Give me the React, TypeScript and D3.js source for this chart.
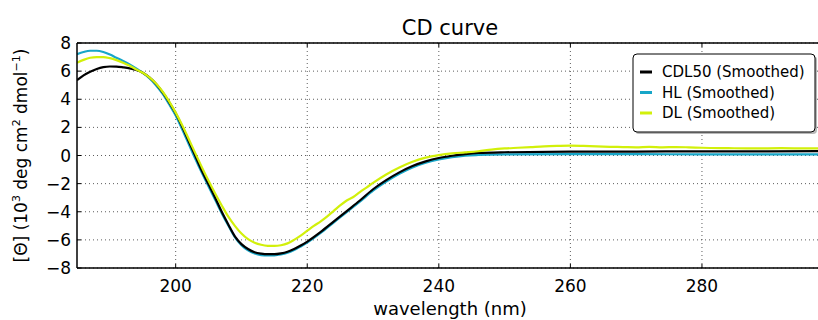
import React from "react";
import * as d3 from "d3";

const seriesNames = ["CDL50 (Smoothed)", "HL (Smoothed)", "DL (Smoothed)"];
const seriesColors = ["#000000", "#17a6c8", "#d2f00a"];

const cdl50: [number, number][] = [
  [185, 5.35], [186, 5.7], [187, 5.95], [188, 6.15], [189, 6.28], [190, 6.33], [191, 6.32],
  [192, 6.27], [193, 6.2], [194, 6.08], [195, 5.88], [196, 5.55], [197, 5.1], [198, 4.5],
  [199, 3.8], [200, 3.0], [201, 2.05], [202, 1.0], [203, -0.05], [204, -1.1], [205, -2.05],
  [206, -3.0], [207, -4.0], [208, -4.9], [209, -5.75], [210, -6.3], [211, -6.65], [212, -6.88],
  [213, -6.98], [214, -7.02], [215, -7.02], [216, -6.96], [217, -6.84], [218, -6.65],
  [219, -6.4], [220, -6.12], [222, -5.45], [224, -4.7], [226, -3.95], [228, -3.2],
  [230, -2.4], [232, -1.75], [234, -1.2], [236, -0.75], [238, -0.42], [240, -0.18],
  [242, -0.02], [244, 0.1], [246, 0.18], [250, 0.23], [260, 0.27], [270, 0.28], [280, 0.3],
  [290, 0.3], [298.5, 0.32],
];

const hl: [number, number][] = [
  [185, 7.2], [186, 7.36], [187, 7.45], [188, 7.45], [189, 7.36], [190, 7.18], [191, 6.95],
  [192, 6.72], [193, 6.48], [194, 6.2], [195, 5.88], [196, 5.5], [197, 5.0], [198, 4.4],
  [199, 3.65], [200, 2.85], [201, 1.85], [202, 0.8], [203, -0.25], [204, -1.25], [205, -2.2],
  [206, -3.15], [207, -4.1], [208, -4.98], [209, -5.8], [210, -6.38], [211, -6.75],
  [212, -6.97], [213, -7.08], [214, -7.11], [215, -7.1], [216, -7.04], [217, -6.92],
  [218, -6.72], [219, -6.47], [220, -6.2], [222, -5.52], [224, -4.77], [226, -4.02],
  [228, -3.28], [230, -2.5], [232, -1.85], [234, -1.3], [236, -0.85], [238, -0.52],
  [240, -0.28], [242, -0.12], [244, -0.01], [246, 0.04], [250, 0.08], [260, 0.1],
  [270, 0.1], [280, 0.08], [290, 0.08], [298.5, 0.08],
];

const dl: [number, number][] = [
  [185, 6.6], [186, 6.8], [187, 6.95], [188, 7.0], [189, 7.0], [190, 6.92], [191, 6.78],
  [192, 6.6], [193, 6.38], [194, 6.12], [195, 5.88], [196, 5.55], [197, 5.12], [198, 4.55],
  [199, 3.85], [200, 3.05], [201, 2.15], [202, 1.15], [203, 0.15], [204, -0.85], [205, -1.8],
  [206, -2.7], [207, -3.55], [208, -4.35], [209, -5.0], [210, -5.55], [211, -5.95],
  [212, -6.2], [213, -6.35], [214, -6.42], [215, -6.43], [216, -6.38], [217, -6.25],
  [218, -6.0], [219, -5.7], [220, -5.35], [221, -5.0], [222, -4.7], [223, -4.35],
  [224, -3.95], [225, -3.55], [226, -3.2], [227, -2.95], [228, -2.6], [229, -2.28],
  [230, -1.95], [232, -1.35], [234, -0.85], [236, -0.45], [238, -0.15], [240, 0.03],
  [242, 0.15], [244, 0.22], [246, 0.3], [248, 0.42], [250, 0.5], [252, 0.55], [254, 0.6],
  [256, 0.65], [258, 0.68], [260, 0.7], [262, 0.68], [264, 0.65], [266, 0.62], [268, 0.6],
  [270, 0.58], [272, 0.62], [274, 0.58], [276, 0.6], [278, 0.58], [280, 0.55], [284, 0.52],
  [288, 0.5], [292, 0.52], [296, 0.5], [298.5, 0.5],
];

const xTicks = [200, 220, 240, 260, 280];
const yTicks = [-8, -6, -4, -2, 0, 2, 4, 6, 8];

const W = 818;
const H = 320;
const left = 77;
const right = 823;
const top = 43;
const bottom = 268;
const FONT = "DejaVu Sans, sans-serif";

export default function App() {
  const x = d3.scaleLinear().domain([185, 298.4]).range([left, right]);
  const y = d3.scaleLinear().domain([-8, 8]).range([bottom, top]);
  const line = d3
    .line<[number, number]>()
    .x((d) => x(d[0]))
    .y((d) => y(d[1]))
    .curve(d3.curveMonotoneX);

  const drawOrder = [
    { data: hl, color: seriesColors[1] },
    { data: cdl50, color: seriesColors[0] },
    { data: dl, color: seriesColors[2] },
  ];

  const lx = 633;
  const ly = 54;
  const lw = 182;
  const lh = 78;

  return (
    <svg
      width={W}
      height={H}
      style={{ position: "absolute", left: 0, top: 0, background: "#fff" }}
      fontFamily={FONT}
    >
      <rect x={0} y={0} width={W} height={H} fill="#fff" />
      <defs>
        <clipPath id="plot">
          <rect x={left} y={top} width={right - left} height={bottom - top} />
        </clipPath>
      </defs>
      {/* grid */}
      {xTicks.map((t) => (
        <line
          key={"gx" + t}
          x1={x(t)}
          x2={x(t)}
          y1={top}
          y2={bottom}
          stroke="#333"
          strokeWidth={0.8}
          strokeDasharray="1,3"
        />
      ))}
      {yTicks.map((t) => (
        <line
          key={"gy" + t}
          x1={left}
          x2={right}
          y1={y(t)}
          y2={y(t)}
          stroke="#333"
          strokeWidth={0.8}
          strokeDasharray="1,3"
        />
      ))}
      {/* curves */}
      <g clipPath="url(#plot)">
        {drawOrder.map((s, i) => (
          <path key={i} d={line(s.data) || ""} fill="none" stroke={s.color} strokeWidth={2.2} />
        ))}
      </g>
      {/* ticks */}
      {xTicks.map((t) => (
        <g key={"tx" + t}>
          <line x1={x(t)} x2={x(t)} y1={bottom} y2={bottom - 4} stroke="#000" strokeWidth={1} />
          <line x1={x(t)} x2={x(t)} y1={top} y2={top + 4} stroke="#000" strokeWidth={1} />
        </g>
      ))}
      {yTicks.map((t) => (
        <g key={"ty" + t}>
          <line x1={left} x2={left + 4} y1={y(t)} y2={y(t)} stroke="#000" strokeWidth={1} />
        </g>
      ))}
      {/* spines */}
      <line x1={left} x2={right} y1={top} y2={top} stroke="#000" strokeWidth={1.5} />
      <line x1={left} x2={right} y1={bottom} y2={bottom} stroke="#000" strokeWidth={1.5} />
      <line x1={left} x2={left} y1={top} y2={bottom} stroke="#000" strokeWidth={1.5} />
      <line x1={right} x2={right} y1={top} y2={bottom} stroke="#000" strokeWidth={1.5} />
      {/* tick labels */}
      {xTicks.map((t) => (
        <text key={"lx" + t} x={x(t)} y={292} fontSize={17} textAnchor="middle" fill="#000">
          {t}
        </text>
      ))}
      {yTicks.map((t) => (
        <text
          key={"ly" + t}
          x={71}
          y={y(t)}
          dy="0.36em"
          fontSize={17}
          textAnchor="end"
          fill="#000"
        >
          {t < 0 ? "\u2212" + Math.abs(t) : t}
        </text>
      ))}
      {/* title */}
      <text x={450} y={35} fontSize={21} textAnchor="middle" fill="#000">
        CD curve
      </text>
      {/* x label */}
      <text x={450} y={315} fontSize={18} textAnchor="middle" fill="#000">
        wavelength (nm)
      </text>
      {/* y label */}
      <text
        transform={`translate(27, ${(top + bottom) / 2}) rotate(-90)`}
        fontSize={17}
        textAnchor="middle"
        fill="#000"
      >
        [Θ] (10
        <tspan fontSize={11} dy={-7}>3</tspan>
        <tspan dy={7}> deg cm</tspan>
        <tspan fontSize={11} dy={-7}>2</tspan>
        <tspan dy={7}> dmol</tspan>
        <tspan fontSize={11} dy={-7}>−1</tspan>
        <tspan dy={7}>)</tspan>
      </text>
      {/* legend */}
      <rect x={lx + 2} y={ly + 2} width={lw} height={lh} rx={4} fill="#888" opacity={0.6} />
      <rect x={lx} y={ly} width={lw} height={lh} rx={4} fill="#fff" stroke="#000" strokeWidth={1} />
      {seriesNames.map((n, i) => (
        <g key={n}>
          <line
            x1={640}
            x2={652}
            y1={72 + i * 20.5}
            y2={72 + i * 20.5}
            stroke={seriesColors[i]}
            strokeWidth={3}
          />
          <text x={662} y={72 + i * 20.5} dy="0.36em" fontSize={15} fill="#000">
            {n}
          </text>
        </g>
      ))}
    </svg>
  );
}
